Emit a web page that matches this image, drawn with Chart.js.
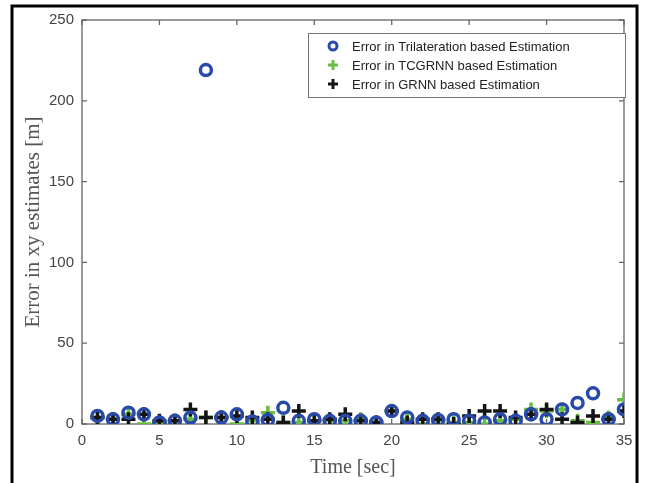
<!DOCTYPE html>
<html>
<head>
<meta charset="utf-8">
<script src="https://cdn.jsdelivr.net/npm/chart.js@4.4.0/dist/chart.umd.min.js"></script>
<style>
  html, body { margin: 0; padding: 0; background: #fff; }
  #wrap { width: 646px; height: 483px; position: relative; }
</style>
</head>
<body>
<div id="wrap"><canvas id="chart" width="646" height="483"></canvas></div>
<script>
const times = [1,2,3,4,5,6,7,8,9,10,11,12,13,14,15,16,17,18,19,20,21,22,23,24,25,26,27,28,29,30,31,32,33,34,35];

const trilateration = [5,3,7,6,1,2,4,219,4,6,1.5,2.5,10,2,3,2,2,2,1,8,4,2,2.5,3,2,1,3,2,6,3,9,13,19,3,9];
const tcgrnn = [4,3,6,0,1,2,3,4,4,0,2,7,1,1,2,2,2,3,1,8,3,0,2,1,1,0,2,3,9,8,9,2,1,4,15];
const grnn = [4,3,3,6,2,2,9,4,4,5,4,3,1,8,2,3,6,2,1,8,1,3,3,0,5,8,8,4,6,9,3,1,5,3,8];

const xTicks = [0,5,10,15,20,25,30,35];
const yTicks = [0,50,100,150,200,250];

const legendLabels = [
  'Error in Trilateration based Estimation',
  'Error in TCGRNN based Estimation',
  'Error in GRNN based Estimation'
];

const blue = 'rgb(42,74,170)';
const green = 'rgb(104,190,64)';
const black = 'rgb(20,20,20)';

function pts(vals) {
  return times.map((t, i) => ({x: t, y: vals[i]}));
}

// box, inward ticks, outer frame and legend
const decor = {
  id: 'decor',
  beforeDatasetsDraw(chart) {
    const ctx = chart.ctx;
    const a = chart.chartArea;
    const xs = chart.scales.x, ys = chart.scales.y;
    ctx.save();
    ctx.strokeStyle = '#666';
    ctx.lineWidth = 1.3;
    ctx.strokeRect(a.left, a.top, a.right - a.left, a.bottom - a.top);
    ctx.beginPath();
    xTicks.forEach(v => {
      const px = xs.getPixelForValue(v);
      ctx.moveTo(px, a.bottom); ctx.lineTo(px, a.bottom - 5);
      ctx.moveTo(px, a.top); ctx.lineTo(px, a.top + 5);
    });
    yTicks.forEach(v => {
      const py = ys.getPixelForValue(v);
      ctx.moveTo(a.left, py); ctx.lineTo(a.left + 5, py);
      ctx.moveTo(a.right, py); ctx.lineTo(a.right - 5, py);
    });
    ctx.stroke();
    ctx.restore();
  },
  afterDraw(chart) {
    const ctx = chart.ctx;
    ctx.save();
    // outer figure frame
    ctx.strokeStyle = '#000';
    ctx.lineWidth = 3;
    ctx.beginPath();
    ctx.moveTo(12, 490); ctx.lineTo(12, 6); ctx.lineTo(637, 6); ctx.lineTo(637, 490);
    ctx.stroke();

    // legend
    const bx = 308, by = 33, bw = 317, bh = 64;
    ctx.fillStyle = '#fff';
    ctx.fillRect(bx, by, bw, bh);
    ctx.strokeStyle = '#777';
    ctx.lineWidth = 1;
    ctx.strokeRect(bx + 0.5, by + 0.5, bw, bh);
    ctx.font = '13px "Liberation Sans", Arial, sans-serif';
    ctx.textBaseline = 'middle';
    const styles = chart.data.datasets;
    styles.forEach((ds, i) => {
      const cy = by + 13 + i * 19;
      const cx = 333;
      ctx.strokeStyle = ds.borderColor;
      ctx.lineWidth = 3;
      ctx.beginPath();
      if (ds.pointStyle === 'circle') {
        ctx.arc(cx, cy, 4, 0, Math.PI * 2);
      } else {
        ctx.moveTo(cx - 5, cy); ctx.lineTo(cx + 5, cy);
        ctx.moveTo(cx, cy - 5); ctx.lineTo(cx, cy + 5);
      }
      ctx.stroke();
      ctx.fillStyle = '#222';
      ctx.fillText(legendLabels[i], 352, cy + 1);
    });
    ctx.restore();
  }
};

const data = {
  datasets: [{
    label: legendLabels[0],
    data: pts(trilateration),
    order: 0,
    pointStyle: 'circle',
    borderColor: blue,
    backgroundColor: 'rgba(0,0,0,0)',
    pointRadius: 5.5,
    pointBorderWidth: 3.5,
    showLine: false
  }, {
    label: legendLabels[1],
    data: pts(tcgrnn),
    order: 2,
    pointStyle: 'cross',
    borderColor: green,
    backgroundColor: green,
    pointRadius: 7,
    pointBorderWidth: 3.5,
    showLine: false
  }, {
    label: legendLabels[2],
    data: pts(grnn),
    order: 1,
    pointStyle: 'cross',
    borderColor: black,
    backgroundColor: black,
    pointRadius: 7,
    pointBorderWidth: 3.5,
    showLine: false
  }]
};

const config = {
  type: 'scatter',
  data: data,
  options: {
    responsive: false,
    animation: false,
    layout: { padding: { left: 0, right: 22, top: 20, bottom: 0 } },
    plugins: { legend: { display: false }, tooltip: { enabled: false } },
    scales: {
      x: {
        type: 'linear',
        min: 0, max: 35,
        afterBuildTicks: s => { s.ticks = xTicks.map(v => ({value: v})); },
        afterFit: s => { s.height = 59; },
        grid: { display: false, drawTicks: false },
        border: { display: false },
        ticks: { color: '#444', padding: 8, font: { family: '"Liberation Sans", Arial, sans-serif', size: 15 } },
        title: {
          display: true, text: 'Time [sec]', color: '#555',
          font: { family: '"Liberation Serif", "Times New Roman", serif', size: 20 },
          padding: { top: 1, bottom: 3 }
        }
      },
      y: {
        type: 'linear',
        min: 0, max: 250,
        afterBuildTicks: s => { s.ticks = yTicks.map(v => ({value: v})); },
        afterFit: s => { s.width = 82; },
        grid: { display: false, drawTicks: false },
        border: { display: false },
        ticks: { color: '#444', padding: 8, font: { family: '"Liberation Sans", Arial, sans-serif', size: 15 } },
        title: {
          display: true, text: 'Error in xy estimates [m]', color: '#555',
          font: { family: '"Liberation Serif", "Times New Roman", serif', size: 21 },
          padding: { top: 21, bottom: 0 }
        }
      }
    }
  },
  plugins: [decor]
};

new Chart(document.getElementById('chart'), config);
</script>
</body>
</html>
